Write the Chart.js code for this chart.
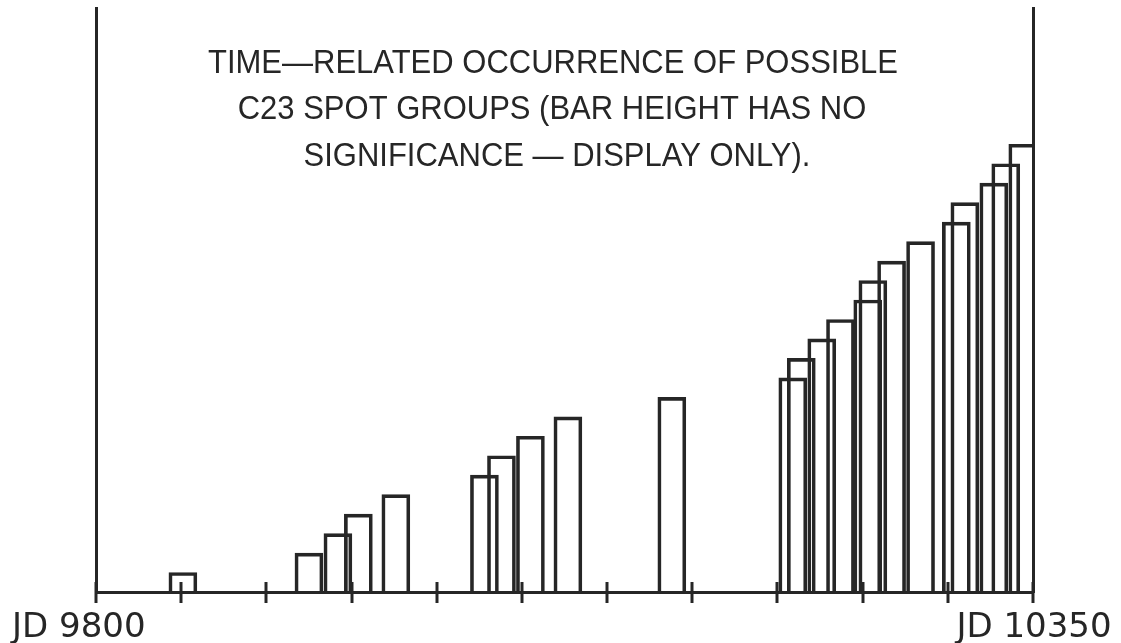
<!DOCTYPE html>
<html>
<head>
<meta charset="utf-8">
<script src="https://cdn.jsdelivr.net/npm/chart.js@4.4.1/dist/chart.umd.min.js"></script>
<style>
  html, body { margin: 0; padding: 0; background: #fff; }
  canvas { display: block; }
</style>
</head>
<body>
<canvas id="spotChart" width="1121" height="643"></canvas>
<script>
// JD (as printed on the axis) of each possible C23 spot group
const spotDates = [9851, 9925, 9942, 9954, 9976, 10028, 10038, 10055, 10077, 10138,
                   10209, 10214, 10226, 10237, 10253, 10256, 10267, 10284, 10305, 10310,
                   10327, 10334, 10344];
// bar heights are display only, each bar one step higher
const barHeights = [1, 2, 3, 4, 5, 6, 7, 8, 9, 10,
                    11, 12, 13, 14, 15, 16, 17, 18, 19, 20,
                    21, 22, 23];
const axisStart = 9800;
const axisEnd = 10350;
const tickStep = 50;
const startLabel = "JD 9800";
const endLabel = "JD 10350";
const titleLines = [
  "TIME\u2014RELATED OCCURRENCE OF POSSIBLE",
  "C23 SPOT GROUPS (BAR HEIGHT HAS NO",
  "SIGNIFICANCE \u2014 DISPLAY ONLY)."
];

const ink = "#262626";

const decorPlugin = {
  id: "decor",
  afterDraw(chart) {
    const ctx = chart.ctx;
    const xs = chart.scales.x;
    const base = chart.chartArea.bottom;

    // ticks cross the axis line
    ctx.save();
    ctx.strokeStyle = ink;
    ctx.lineWidth = 3;
    xs.ticks.forEach(t => {
      const px = Math.round(xs.getPixelForValue(t.value));
      ctx.beginPath();
      ctx.moveTo(px, base - 10);
      ctx.lineTo(px, base + 11);
      ctx.stroke();
    });

    // end labels
    ctx.fillStyle = ink;
    ctx.font = '34px "DejaVu Sans"';
    ctx.textBaseline = "alphabetic";
    ctx.textAlign = "left";
    ctx.fillText(startLabel, 12, 637);
    ctx.textAlign = "center";
    ctx.fillText(endLabel, xs.getPixelForValue(axisEnd) + 1, 637);

    // title inside plot area, condensed sans
    ctx.font = '34px "Liberation Sans", Arial, sans-serif';
    const w = ctx.measureText(titleLines[0]).width;
    const sx = 690 / w;
    const baselines = [73, 119, 166];
    const centers = [553, 552, 557];
    titleLines.forEach((line, i) => {
      ctx.save();
      ctx.translate(centers[i], baselines[i]);
      ctx.scale(sx, 1);
      ctx.textAlign = "center";
      ctx.fillText(line, 0, 0);
      ctx.restore();
    });
    ctx.restore();
  }
};

const ctx = document.getElementById("spotChart").getContext("2d");
new Chart(ctx, {
  type: "bar",
  data: {
    datasets: [{
      data: spotDates.map((d, i) => ({ x: d, y: barHeights[i] })),
      backgroundColor: "rgba(0,0,0,0)",
      borderColor: ink,
      borderWidth: 3,
      borderSkipped: "start",
      barThickness: 28
    }]
  },
  options: {
    responsive: false,
    animation: false,
    devicePixelRatio: 1,
    layout: { padding: { left: 96, right: 88, top: 8, bottom: 51 } },
    plugins: { legend: { display: false }, tooltip: { enabled: false } },
    scales: {
      x: {
        type: "linear",
        min: axisStart,
        max: axisEnd,
        offset: false,
        ticks: { stepSize: tickStep, display: false },
        grid: { display: false },
        border: { display: true, color: ink, width: 3 },
        afterFit: s => { s.height = 0; }
      },
      y: {
        min: 0,
        max: 30,
        ticks: { display: false },
        grid: { display: false },
        border: { display: true, color: ink, width: 3 },
        afterFit: s => { s.width = 0; }
      },
      y2: {
        position: "right",
        min: 0,
        max: 30,
        ticks: { display: false },
        grid: { display: false },
        border: { display: true, color: ink, width: 3 },
        afterFit: s => { s.width = 0; }
      }
    }
  },
  plugins: [decorPlugin]
});
</script>
</body>
</html>
